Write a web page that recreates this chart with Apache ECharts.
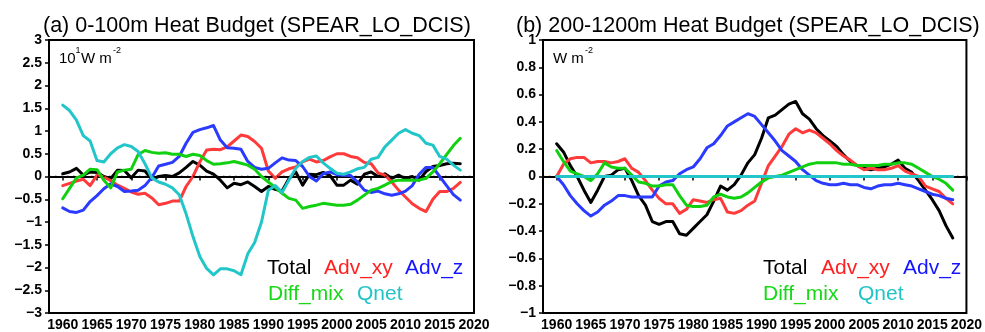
<!DOCTYPE html>
<html><head><meta charset="utf-8">
<script src="https://cdn.jsdelivr.net/npm/echarts@6.0.0/dist/echarts.min.js"></script>
<style>html,body{margin:0;padding:0;background:#fff}#c{width:985px;height:332px}</style>
</head><body><div id="c"></div>
<script>
const years = [1960,1961,1962,1963,1964,1965,1966,1967,1968,1969,
  1970,1971,1972,1973,1974,1975,1976,1977,1978,1979,
  1980,1981,1982,1983,1984,1985,1986,1987,1988,1989,
  1990,1991,1992,1993,1994,1995,1996,1997,1998,1999,
  2000,2001,2002,2003,2004,2005,2006,2007,2008,2009,
  2010,2011,2012,2013,2014,2015,2016,2017,2018];
const xTicks = [1960,1965,1970,1975,1980,1985,1990,1995,2000,2005,2010,2015,2020];
const seriesNames = ['Total','Adv_xy','Adv_z','Diff_mix','Qnet'];

// (a) 0-100m, units 10^1 W m-2
const a_total = [0.06,0.10,0.18,0.03,0.10,0.09,0.00,-0.05,0.14,0.13,
  -0.03,0.14,0.12,-0.06,0.00,0.02,0.00,0.08,0.20,0.33,
  0.25,0.12,0.05,-0.08,-0.25,-0.15,-0.18,-0.12,-0.22,-0.33,
  -0.22,-0.28,-0.32,-0.05,0.10,-0.19,0.05,0.04,0.09,0.02,
  -0.19,-0.19,-0.08,-0.17,0.05,0.10,0.00,0.06,-0.04,0.03,
  -0.05,0.00,-0.08,0.11,0.22,0.24,0.28,0.29,0.28];
const a_advxy = [-0.20,-0.15,-0.10,-0.06,-0.20,0.03,-0.01,-0.09,-0.19,-0.26,
  -0.34,-0.39,-0.37,-0.47,-0.62,-0.59,-0.54,-0.54,-0.22,0.00,
  0.32,0.58,0.60,0.59,0.65,0.78,0.91,0.88,0.77,0.62,
  0.12,-0.04,0.10,0.17,0.21,0.32,0.38,0.32,0.35,0.43,
  0.50,0.50,0.44,0.41,0.31,0.28,0.08,0.03,-0.12,-0.30,
  -0.45,-0.60,-0.70,-0.77,-0.50,-0.33,-0.33,-0.26,-0.13];
const a_advz = [-0.69,-0.77,-0.79,-0.74,-0.55,-0.42,-0.27,-0.16,-0.22,-0.33,
  -0.32,-0.30,-0.20,-0.02,0.23,0.27,0.31,0.44,0.73,0.97,
  1.03,1.07,1.12,0.80,0.63,0.62,0.60,0.33,0.20,0.16,
  0.18,0.30,0.41,0.36,0.35,0.22,0.00,-0.10,0.06,0.10,
  0.04,0.03,0.02,-0.12,-0.30,-0.35,-0.32,-0.38,-0.41,-0.38,
  -0.32,-0.20,0.05,0.20,0.20,0.00,-0.20,-0.40,-0.52];
const a_diff = [-0.49,-0.26,-0.03,0.03,0.16,0.15,-0.08,-0.25,0.10,0.14,
  0.16,0.48,0.57,0.53,0.51,0.52,0.49,0.49,0.44,0.49,
  0.46,0.35,0.27,0.28,0.30,0.33,0.29,0.25,0.16,0.00,
  -0.12,-0.24,-0.37,-0.48,-0.52,-0.70,-0.66,-0.63,-0.59,-0.61,
  -0.63,-0.63,-0.61,-0.52,-0.41,-0.30,-0.26,-0.19,-0.11,-0.08,
  -0.08,-0.08,-0.08,-0.04,0.10,0.28,0.48,0.68,0.84];
const a_qnet = [1.57,1.45,1.24,0.90,0.78,0.35,0.32,0.50,0.63,0.70,
  0.66,0.55,0.28,-0.03,-0.12,-0.17,-0.25,-0.40,-0.82,-1.32,
  -1.76,-2.02,-2.16,-2.03,-2.03,-2.07,-2.16,-1.70,-1.45,-1.00,
  -0.30,-0.20,-0.35,-0.08,0.18,0.33,0.42,0.45,0.30,0.18,
  0.07,0.05,0.10,0.17,0.20,0.38,0.42,0.65,0.80,0.95,
  1.03,0.95,0.90,0.73,0.69,0.44,0.38,0.25,0.14];

// (b) 200-1200m, W m-2
const b_total = [0.24,0.18,0.08,0.00,-0.10,-0.19,-0.10,0.00,0.01,0.05,
  0.06,-0.03,-0.14,-0.21,-0.33,-0.35,-0.33,-0.33,-0.42,-0.43,
  -0.38,-0.33,-0.28,-0.18,-0.07,-0.10,-0.06,0.01,0.10,0.16,
  0.28,0.43,0.45,0.49,0.53,0.55,0.46,0.42,0.35,0.30,
  0.26,0.22,0.16,0.11,0.08,0.06,0.05,0.06,0.07,0.09,
  0.12,0.06,0.03,-0.03,-0.10,-0.17,-0.25,-0.36,-0.45];
const b_advxy = [0.00,0.09,0.13,0.14,0.14,0.10,0.11,0.11,0.10,0.11,
  0.13,0.06,0.03,-0.03,-0.10,-0.16,-0.20,-0.20,-0.27,-0.24,
  -0.17,-0.18,-0.19,-0.17,-0.16,-0.26,-0.27,-0.25,-0.21,-0.18,
  -0.05,0.08,0.15,0.22,0.31,0.35,0.32,0.34,0.32,0.28,
  0.24,0.19,0.15,0.12,0.08,0.05,0.06,0.05,0.05,0.06,
  0.08,0.04,0.02,0.00,-0.07,-0.09,-0.11,-0.16,-0.20];
const b_advz = [0.00,-0.06,-0.14,-0.20,-0.25,-0.29,-0.26,-0.21,-0.18,-0.14,
  -0.14,-0.15,-0.15,-0.15,-0.15,-0.07,-0.04,-0.03,0.02,0.05,
  0.07,0.13,0.21,0.24,0.30,0.37,0.40,0.43,0.46,0.44,
  0.38,0.32,0.26,0.19,0.15,0.11,0.05,0.01,-0.03,-0.05,
  -0.06,-0.06,-0.05,-0.06,-0.06,-0.08,-0.09,-0.07,-0.06,-0.06,
  -0.05,-0.06,-0.07,-0.09,-0.11,-0.13,-0.14,-0.16,-0.17];
const b_diff = [0.19,0.11,0.04,0.02,0.00,-0.03,0.02,0.10,0.07,0.06,
  0.06,0.01,-0.04,-0.05,-0.07,-0.07,-0.06,-0.06,-0.14,-0.21,
  -0.22,-0.22,-0.21,-0.15,-0.13,-0.15,-0.16,-0.15,-0.12,-0.08,
  -0.04,-0.01,0.00,0.01,0.03,0.05,0.07,0.09,0.10,0.10,
  0.10,0.10,0.09,0.09,0.08,0.08,0.08,0.08,0.09,0.09,
  0.10,0.10,0.09,0.06,0.03,0.00,-0.02,-0.05,-0.10];
const b_qnet = [0,0,0,0,0,0,0,0,0,0,
  0,0,0,0,0,0,0,0,0,0,
  0,0,0,0,0,0,0,0,0,0,
  0,0,0,0,0,0,0,0,0,0,
  0,0,0,0,0,0,0,0,0,0,
  0,0,0,0,0,0,0,0,0];

const colors = ['#000000','#ff3a3a','#2a3aff','#10d010','#22c6c8'];
const legendColors = ['#000000','#ff2020','#1515ff','#18d818','#22c4c8'];
const FONT = 'Liberation Sans, Arial, Helvetica, sans-serif';

const chart = echarts.init(document.getElementById('c'), null, {renderer:'canvas'});

function fmt(v){
  const a = parseFloat(Math.abs(v).toFixed(2));
  return (v < -1e-9 ? '\u2212' : '') + a;
}
function xAxisCfg(gi){
  return {
    gridIndex: gi, type:'value', min:1958, max:2020,
    axisLine:{show:true, lineStyle:{color:'#000', width:2}},
    axisTick:{show:true, inside:false, length:4, customValues:xTicks, lineStyle:{color:'#000', width:1.5}},
    axisLabel:{customValues:xTicks, color:'#000', fontFamily:FONT, fontWeight:'bold', fontSize:14, margin:5,
      formatter:(v)=>String(v)},
    splitLine:{show:false}
  };
}
function yAxisCfg(gi, mn, mx, iv){
  return {
    gridIndex: gi, type:'value', min:mn, max:mx, interval:iv,
    axisLine:{show:true, lineStyle:{color:'#000', width:2}},
    axisTick:{show:true, inside:false, length:4, lineStyle:{color:'#000', width:1.5}},
    axisLabel:{color:'#000', fontFamily:FONT, fontWeight:'bold', fontSize:14, margin:7, formatter:fmt},
    splitLine:{show:false}
  };
}
function mk(gi, arrs){
  return arrs.map((arr, k) => {
    const s = {
      name: seriesNames[k], type:'line', xAxisIndex:gi, yAxisIndex:gi,
      data: years.map((y,i)=>[y, arr[i]]),
      symbol:'none', showSymbol:false, z: 3 + k,
      lineStyle:{color:colors[k], width:3, join:'round', cap:'round'},
      itemStyle:{color:colors[k]}, animation:false, silent:true
    };
    if (k === 0) {
      s.markLine = {silent:true, symbol:'none', label:{show:false}, animation:false,
        lineStyle:{type:[1.5,4.5], color:'#000', width:1.3}, data:[{yAxis:0}]};
    }
    return s;
  });
}
function txt(x, y, text, font, fill, align){
  return {type:'text', x:x, y:y, silent:true,
    style:{text:text, font:font, fill:fill, textAlign:align||'left', textVerticalAlign:'middle', verticalAlign:'middle'}};
}
const TF = '21.5px ' + FONT;
const LF = '21px ' + FONT;
const UF = '15px ' + FONT;
const SF = '9px ' + FONT;

function legend(x0, pos){
  return [
    txt(pos[0], 268, seriesNames[0], LF, legendColors[0]),
    txt(pos[1], 268, seriesNames[1], LF, legendColors[1]),
    txt(pos[2], 268, seriesNames[2], LF, legendColors[2]),
    txt(pos[3], 294, seriesNames[3], LF, legendColors[3]),
    txt(pos[4], 294, seriesNames[4], LF, legendColors[4])
  ];
}

const option = {
  backgroundColor:'#fff',
  animation:false,
  grid:[
    {left:49, top:40, width:425, height:273, show:true, borderColor:'#000', borderWidth:2, containLabel:false},
    {left:543, top:40, width:426, height:273, show:true, borderColor:'#000', borderWidth:2, containLabel:false}
  ],
  xAxis:[xAxisCfg(0), xAxisCfg(1)],
  yAxis:[yAxisCfg(0,-3,3,0.5), yAxisCfg(1,-1,1,0.2)],
  series:[].concat(mk(0,[a_total,a_advxy,a_advz,a_diff,a_qnet]), mk(1,[b_total,b_advxy,b_advz,b_diff,b_qnet])),
  graphic:[].concat(
    [
      txt(43, 26.5, '(a) 0-100m Heat Budget (SPEAR_LO_DCIS)', TF, '#000'),
      txt(516, 26.5, '(b) 200-1200m Heat Budget (SPEAR_LO_DCIS)', TF, '#000'),
      txt(59, 58.5, '10', UF, '#000'),
      txt(75.5, 51, '1', SF, '#000'),
      txt(81, 58.5, 'W m', UF, '#000'),
      txt(113, 51, '-2', SF, '#000'),
      txt(553, 58.5, 'W m', UF, '#000'),
      txt(585, 51, '-2', SF, '#000')
    ],
    legend(0, [267, 324, 405, 268, 357]),
    legend(1, [763, 821, 903, 763, 858])
  )
};
chart.setOption(option);
</script>
</body></html>
